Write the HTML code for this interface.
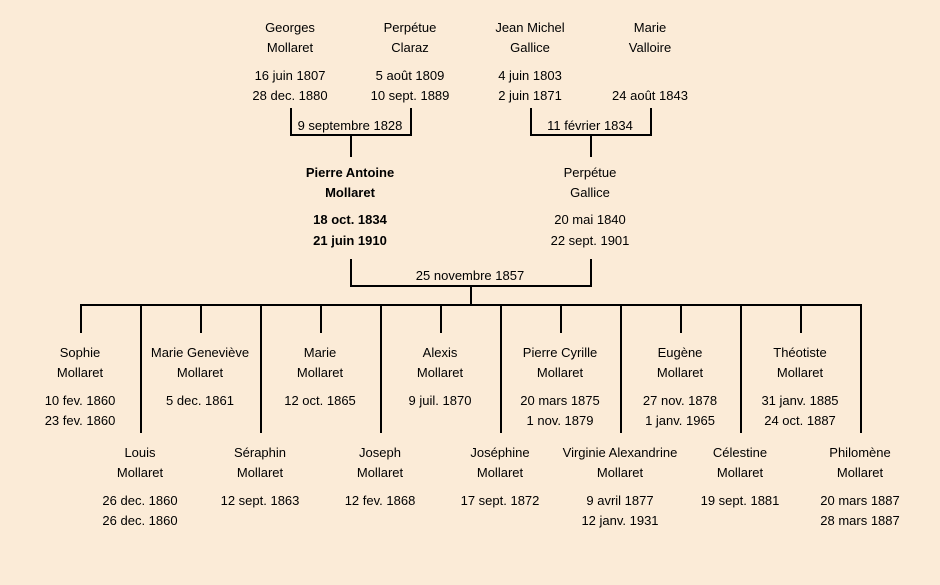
<!DOCTYPE html>
<html><head><meta charset="utf-8"><style>
html,body{margin:0;padding:0;background:#fbebd7;}
svg{display:block}
text{font-family:"Liberation Sans","DejaVu Sans",sans-serif;font-size:13px;fill:#000;text-anchor:middle;dominant-baseline:middle}
.b{font-weight:bold}
</style></head><body>
<svg width="940" height="585" viewBox="0 0 940 585">
<rect width="940" height="585" fill="#fbebd7"/>
<g stroke="#000" stroke-width="2" fill="none">
<path d="M291 108V135H411V108M351 135V157"/>
<path d="M531 108V135H651V108M591 135V157"/>
<path d="M351 259V286H591V259M471 286V305"/>
<path d="M80 305H862"/>
<path d="M81 305V333M201 305V333M321 305V333M441 305V333M561 305V333M681 305V333M801 305V333"/>
<path d="M141 305V433M261 305V433M381 305V433M501 305V433M621 305V433M741 305V433M861 305V433"/>
</g>
<g transform="translate(0,1.5)">
<text x="290" y="27">Georges</text><text x="290" y="47">Mollaret</text>
<text x="290" y="75">16 juin 1807</text><text x="290" y="95">28 dec. 1880</text>
<text x="410" y="27">Perpétue</text><text x="410" y="47">Claraz</text>
<text x="410" y="75">5 août 1809</text><text x="410" y="95">10 sept. 1889</text>
<text x="530" y="27">Jean Michel</text><text x="530" y="47">Gallice</text>
<text x="530" y="75">4 juin 1803</text><text x="530" y="95">2 juin 1871</text>
<text x="650" y="27">Marie</text><text x="650" y="47">Valloire</text>
<text x="650" y="95">24 août 1843</text>
<text x="350" y="125">9 septembre 1828</text>
<text x="590" y="125">11 février 1834</text>
<text class="b" x="350" y="172">Pierre Antoine</text><text class="b" x="350" y="192">Mollaret</text>
<text class="b" x="350" y="219">18 oct. 1834</text><text class="b" x="350" y="240">21 juin 1910</text>
<text x="590" y="172">Perpétue</text><text x="590" y="192">Gallice</text>
<text x="590" y="219">20 mai 1840</text><text x="590" y="240">22 sept. 1901</text>
<text x="470" y="275">25 novembre 1857</text>

<text x="80" y="352">Sophie</text><text x="80" y="372">Mollaret</text><text x="80" y="400">10 fev. 1860</text><text x="80" y="420">23 fev. 1860</text>
<text x="200" y="352">Marie Geneviève</text><text x="200" y="372">Mollaret</text><text x="200" y="400">5 dec. 1861</text>
<text x="320" y="352">Marie</text><text x="320" y="372">Mollaret</text><text x="320" y="400">12 oct. 1865</text>
<text x="440" y="352">Alexis</text><text x="440" y="372">Mollaret</text><text x="440" y="400">9 juil. 1870</text>
<text x="560" y="352">Pierre Cyrille</text><text x="560" y="372">Mollaret</text><text x="560" y="400">20 mars 1875</text><text x="560" y="420">1 nov. 1879</text>
<text x="680" y="352">Eugène</text><text x="680" y="372">Mollaret</text><text x="680" y="400">27 nov. 1878</text><text x="680" y="420">1 janv. 1965</text>
<text x="800" y="352">Théotiste</text><text x="800" y="372">Mollaret</text><text x="800" y="400">31 janv. 1885</text><text x="800" y="420">24 oct. 1887</text>

<text x="140" y="452">Louis</text><text x="140" y="472">Mollaret</text><text x="140" y="500">26 dec. 1860</text><text x="140" y="520">26 dec. 1860</text>
<text x="260" y="452">Séraphin</text><text x="260" y="472">Mollaret</text><text x="260" y="500">12 sept. 1863</text>
<text x="380" y="452">Joseph</text><text x="380" y="472">Mollaret</text><text x="380" y="500">12 fev. 1868</text>
<text x="500" y="452">Joséphine</text><text x="500" y="472">Mollaret</text><text x="500" y="500">17 sept. 1872</text>
<text x="620" y="452">Virginie Alexandrine</text><text x="620" y="472">Mollaret</text><text x="620" y="500">9 avril 1877</text><text x="620" y="520">12 janv. 1931</text>
<text x="740" y="452">Célestine</text><text x="740" y="472">Mollaret</text><text x="740" y="500">19 sept. 1881</text>
<text x="860" y="452">Philomène</text><text x="860" y="472">Mollaret</text><text x="860" y="500">20 mars 1887</text><text x="860" y="520">28 mars 1887</text>
</g>
</svg>
</body></html>
